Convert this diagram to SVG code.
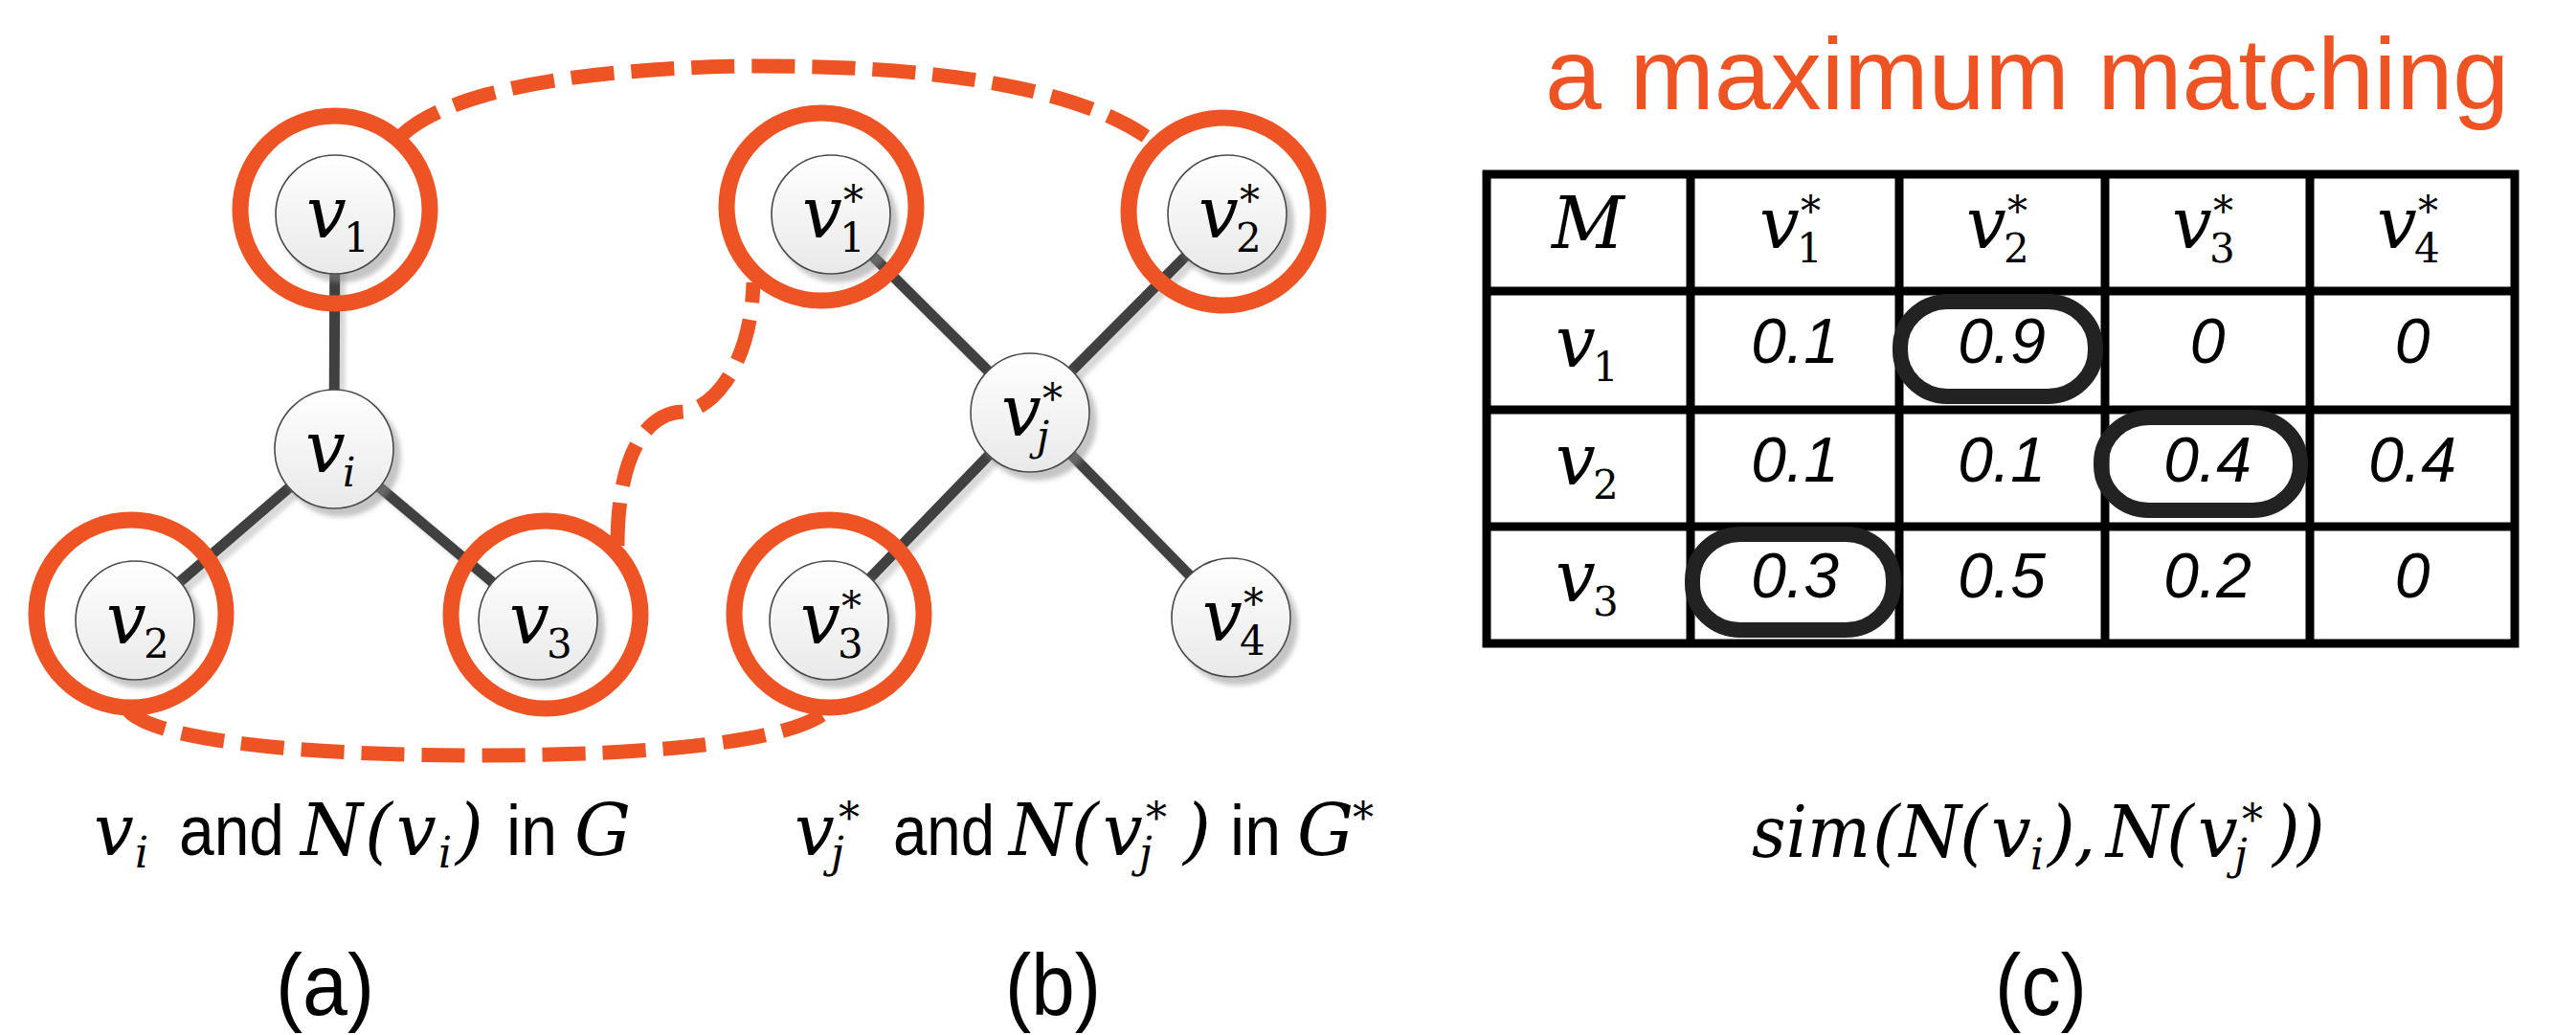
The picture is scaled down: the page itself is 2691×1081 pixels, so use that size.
<svg xmlns="http://www.w3.org/2000/svg" width="2691" height="1081" viewBox="0 0 2691 1081">
<defs>
  <linearGradient id="nodeFill" x1="0" y1="0" x2="0" y2="1">
    <stop offset="0" stop-color="#ffffff"/>
    <stop offset="1" stop-color="#e9e9e9"/>
  </linearGradient>
  <filter id="shadow" x="-40%" y="-40%" width="180%" height="180%">
    <feDropShadow dx="7" dy="8" stdDeviation="2.5" flood-color="#8a8a8a" flood-opacity="0.5"/>
  </filter>
  <filter id="eshadow" x="-20%" y="-20%" width="140%" height="140%">
    <feDropShadow dx="6" dy="6" stdDeviation="2" flood-color="#b0b0b0" flood-opacity="0.5"/>
  </filter>
</defs>
<style>
  .node { fill: url(#nodeFill); stroke: #4a4a4a; stroke-width: 1.6; filter: url(#shadow); }
  .ring { fill: none; stroke: #EE5323; stroke-width: 17; }
  .edge { stroke: #404040; stroke-width: 11; fill: none; }
  .match { fill: none; stroke: #EE5323; stroke-width: 15; stroke-dasharray: 45 18; }
  .m { font-family: "DejaVu Serif", "Liberation Serif", serif; font-style: italic; fill: #000; }
  .lbl { font-size: 74px; }
  .sub { font-size: 42px; }
  .up { font-style: normal; }
  .cap { font-size: 74px; }
  .csub { font-size: 44px; }
  .s { font-family: "Liberation Sans", Arial, sans-serif; fill: #000; }
  .word { font-size: 74px; }
  .tag { font-size: 90px; }
  .num { font-family: "Liberation Sans", Arial, sans-serif; font-style: italic; font-size: 66px; text-anchor: middle; fill: #000; }
  .grid { stroke: #000; stroke-width: 9; fill: none; }
  .oval { fill: none; stroke: #222; stroke-width: 16; }
  .title { font-family: "Liberation Sans", Arial, sans-serif; font-size: 106px; fill: #EE5323; }
</style>
<rect x="0" y="0" width="2691" height="1081" fill="#ffffff"/>

<g id="edges" filter="url(#eshadow)">
  <line class="edge" x1="350" y1="224" x2="349" y2="469"/>
  <line class="edge" x1="349" y1="469" x2="141" y2="648"/>
  <line class="edge" x1="349" y1="469" x2="562" y2="648"/>
  <line class="edge" x1="1076" y1="431" x2="868" y2="224"/>
  <line class="edge" x1="1076" y1="431" x2="1282" y2="224"/>
  <line class="edge" x1="1076" y1="431" x2="866" y2="648"/>
  <line class="edge" x1="1076" y1="431" x2="1286" y2="645"/>
</g>

<g id="node-v1">
  <circle class="node" cx="350" cy="224" r="62"/>
  <text class="m lbl"><tspan x="320" y="248">v</tspan><tspan class="sub up" x="359" y="263">1</tspan></text>
</g>
<g id="node-vi">
  <circle class="node" cx="349" cy="469" r="62"/>
  <text class="m lbl"><tspan x="319" y="493">v</tspan><tspan class="sub" x="358" y="508">i</tspan></text>
</g>
<g id="node-v2">
  <circle class="node" cx="141" cy="648" r="62"/>
  <text class="m lbl"><tspan x="111" y="672">v</tspan><tspan class="sub up" x="150" y="687">2</tspan></text>
</g>
<g id="node-v3">
  <circle class="node" cx="562" cy="648" r="62"/>
  <text class="m lbl"><tspan x="532" y="672">v</tspan><tspan class="sub up" x="571" y="687">3</tspan></text>
</g>
<g id="node-v1s">
  <circle class="node" cx="868" cy="224" r="62"/>
  <text class="m lbl"><tspan x="838" y="248">v</tspan><tspan class="sub up" x="877" y="263">1</tspan><tspan class="sub up" x="881" y="224">*</tspan></text>
</g>
<g id="node-v2s">
  <circle class="node" cx="1282" cy="224" r="62"/>
  <text class="m lbl"><tspan x="1252" y="248">v</tspan><tspan class="sub up" x="1291" y="263">2</tspan><tspan class="sub up" x="1295" y="224">*</tspan></text>
</g>
<g id="node-vjs">
  <circle class="node" cx="1076" cy="431" r="62"/>
  <text class="m lbl"><tspan x="1046" y="455">v</tspan><tspan class="sub" x="1083" y="470">j</tspan><tspan class="sub up" x="1089" y="431">*</tspan></text>
</g>
<g id="node-v3s">
  <circle class="node" cx="866" cy="648" r="62"/>
  <text class="m lbl"><tspan x="836" y="672">v</tspan><tspan class="sub up" x="875" y="687">3</tspan><tspan class="sub up" x="879" y="648">*</tspan></text>
</g>
<g id="node-v4s">
  <circle class="node" cx="1286" cy="645" r="62"/>
  <text class="m lbl"><tspan x="1256" y="669">v</tspan><tspan class="sub up" x="1295" y="684">4</tspan><tspan class="sub up" x="1299" y="645">*</tspan></text>
</g>

<g id="rings">
  <ellipse class="ring" cx="350" cy="219" rx="99" ry="98"/>
  <ellipse class="ring" cx="137" cy="641" rx="99" ry="98"/>
  <ellipse class="ring" cx="570" cy="642" rx="99" ry="98"/>
  <ellipse class="ring" cx="858" cy="216" rx="99" ry="98"/>
  <ellipse class="ring" cx="1278" cy="221" rx="99" ry="98"/>
  <ellipse class="ring" cx="866" cy="641" rx="99" ry="98"/>
</g>

<g id="matches">
  <path class="match" d="M420,141 C470,95 600,72 780,69 C950,68 1120,85 1205,148"/>
  <path class="match" d="M645,570 C645,480 672,432 713,430 C745,428 785,380 787,295"/>
  <path class="match" d="M133,741 C160,775 330,789 500,789 C680,789 830,775 866,741"/>
</g>

<g id="caption-a">
  <text class="m cap"><tspan x="98" y="893">v</tspan><tspan class="csub" x="141" y="906">i</tspan></text>
  <text class="s word" x="187" y="893" textLength="110" lengthAdjust="spacingAndGlyphs">and</text>
  <text class="m cap"><tspan x="314" y="893">N</tspan><tspan x="381" y="893">(</tspan><tspan x="414" y="893">v</tspan><tspan class="csub" x="458" y="906">i</tspan><tspan x="476" y="893">)</tspan></text>
  <text class="s word" x="529" y="893" textLength="53" lengthAdjust="spacingAndGlyphs">in</text>
  <text class="m cap" x="600" y="893">G</text>
  <text class="s tag" x="288" y="1060" textLength="103" lengthAdjust="spacingAndGlyphs">(a)</text>
</g>

<g id="caption-b">
  <text class="m cap"><tspan x="830" y="893">v</tspan><tspan class="csub" x="868" y="906">j</tspan><tspan class="csub up" x="876" y="870">*</tspan></text>
  <text class="s word" x="933" y="893" textLength="106" lengthAdjust="spacingAndGlyphs">and</text>
  <text class="m cap"><tspan x="1054" y="893">N</tspan><tspan x="1119" y="893">(</tspan><tspan x="1152" y="893">v</tspan><tspan class="csub" x="1190" y="906">j</tspan><tspan class="csub up" x="1197" y="870">*</tspan><tspan x="1236" y="893">)</tspan></text>
  <text class="s word" x="1285" y="893" textLength="53" lengthAdjust="spacingAndGlyphs">in</text>
  <text class="m cap"><tspan x="1355" y="893">G</tspan><tspan class="csub up" x="1413" y="870">*</tspan></text>
  <text class="s tag" x="1050" y="1060" textLength="100" lengthAdjust="spacingAndGlyphs">(b)</text>
</g>

<g id="title">
  <text class="title" x="1614" y="114">a maximum matching</text>
</g>

<g id="table">
  <rect class="grid" x="1553" y="182" width="1074" height="490"/>
  <line class="grid" x1="1553" y1="304" x2="2627" y2="304"/>
  <line class="grid" x1="1553" y1="428" x2="2627" y2="428"/>
  <line class="grid" x1="1553" y1="550" x2="2627" y2="550"/>
  <line class="grid" x1="1766" y1="182" x2="1766" y2="672"/>
  <line class="grid" x1="1984" y1="182" x2="1984" y2="672"/>
  <line class="grid" x1="2199" y1="182" x2="2199" y2="672"/>
  <line class="grid" x1="2413" y1="182" x2="2413" y2="672"/>

  <text class="m lbl" x="1659" y="259" text-anchor="middle">M</text>
  <text class="m lbl"><tspan x="1838" y="259">v</tspan><tspan class="sub up" x="1877" y="274">1</tspan><tspan class="sub up" x="1881" y="235">*</tspan></text>
  <text class="m lbl"><tspan x="2054" y="259">v</tspan><tspan class="sub up" x="2093" y="274">2</tspan><tspan class="sub up" x="2097" y="235">*</tspan></text>
  <text class="m lbl"><tspan x="2269" y="259">v</tspan><tspan class="sub up" x="2308" y="274">3</tspan><tspan class="sub up" x="2312" y="235">*</tspan></text>
  <text class="m lbl"><tspan x="2483" y="259">v</tspan><tspan class="sub up" x="2522" y="274">4</tspan><tspan class="sub up" x="2526" y="235">*</tspan></text>

  <text class="m lbl"><tspan x="1625" y="383">v</tspan><tspan class="sub up" x="1664" y="398">1</tspan></text>
  <text class="m lbl"><tspan x="1625" y="506">v</tspan><tspan class="sub up" x="1664" y="521">2</tspan></text>
  <text class="m lbl"><tspan x="1625" y="628">v</tspan><tspan class="sub up" x="1664" y="643">3</tspan></text>

  <text class="num" x="1875" y="379">0.1</text>
  <text class="num" x="2091" y="379">0.9</text>
  <text class="num" x="2306" y="379">0</text>
  <text class="num" x="2520" y="379">0</text>
  <text class="num" x="1875" y="503">0.1</text>
  <text class="num" x="2091" y="503">0.1</text>
  <text class="num" x="2306" y="503">0.4</text>
  <text class="num" x="2520" y="503">0.4</text>
  <text class="num" x="1875" y="624">0.3</text>
  <text class="num" x="2091" y="624">0.5</text>
  <text class="num" x="2306" y="624">0.2</text>
  <text class="num" x="2520" y="624">0</text>

  <rect class="oval" x="1985" y="315" width="204" height="99" rx="50" ry="48"/>
  <rect class="oval" x="2195" y="436" width="208" height="97" rx="50" ry="47"/>
  <rect class="oval" x="1768" y="558" width="210" height="100" rx="50" ry="48"/>
</g>

<g id="caption-c">
  <text class="m cap"><tspan x="1830" y="895" textLength="124" lengthAdjust="spacingAndGlyphs">sim</tspan></text>
  <text class="m cap"><tspan x="1956" y="895">(</tspan><tspan x="1984" y="895">N</tspan><tspan x="2047" y="895">(</tspan><tspan x="2080" y="895">v</tspan><tspan class="csub" x="2121" y="908">i</tspan><tspan x="2139" y="895">)</tspan><tspan x="2166" y="895">,</tspan><tspan x="2200" y="895">N</tspan><tspan x="2263" y="895">(</tspan><tspan x="2296" y="895">v</tspan><tspan class="csub" x="2334" y="908">j</tspan><tspan class="csub up" x="2342" y="872">*</tspan><tspan x="2374" y="895">)</tspan><tspan x="2400" y="895">)</tspan></text>
  <text class="s tag" x="2084" y="1060" textLength="96" lengthAdjust="spacingAndGlyphs">(c)</text>
</g>
</svg>
